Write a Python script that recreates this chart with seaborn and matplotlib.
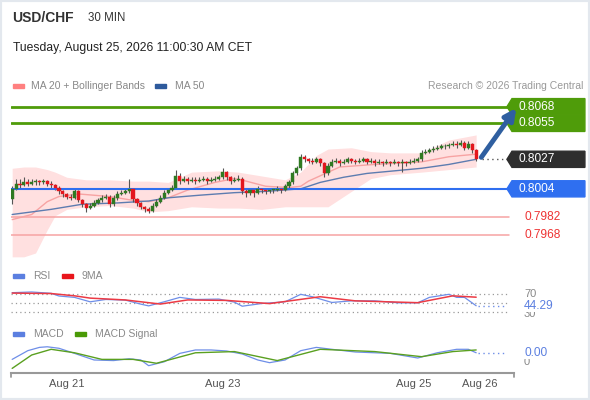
import seaborn as sns
import matplotlib.pyplot as plt
import matplotlib.transforms as mtrans
from matplotlib.patches import Polygon, Rectangle

sns.set_style("white")
plt.rcParams['font.family'] = ['Liberation Sans', 'DejaVu Sans']

W, H = 590, 400

# prices are in pips above 0.8000
BASE = 0.8000
first_open = -4
closes = [4, 8, 7, 9, 8, 9, 10, 9, 10, 8, 7, 5, 2, 0, -2, -3, 2, -5, -8, -11,
          -9, -7, -5, -3, -2, -8, -3, 0, 1, 2, 4, -4, -7, -10, -12, -13, -9, -6, -3, 1,
          3, 5, 14, 10, 12, 10, 11, 10, 11, 12, 10, 11, 12, 13, 17, 13, 10, 11, 12, 2,
          1, 3, 1, 4, 3, 2, 3, 3, 4, 3, 6, 9, 16, 20, 29, 27, 26, 25, 27, 24,
          16, 22, 25, 26, 24, 25, 27, 26, 25, 26, 27, 25, 26, 24, 25, 24, 25, 24, 25, 24,
          25, 24, 25, 26, 27, 32, 33, 34, 35, 36, 37, 37, 38, 39, 38, 40, 36, 39, 34, 27]
highs = [6, 12, 12, 13, 12, 12, 12, 11, 12, 11, 10, 8, 6, 3, 1, 0, 4, 3, -4, -7,
         -7, -5, -3, -1, 0, -1, -1, 2, 3, 4, 12, 5, -3, -6, -9, -10, -7, -4, -1, 3,
         5, 7, 19, 16, 14, 13, 13, 13, 13, 14, 13, 13, 14, 15, 20, 18, 14, 13, 15, 13,
         4, 5, 4, 6, 5, 4, 5, 5, 6, 5, 8, 11, 18, 22, 31, 30, 28, 28, 29, 28,
         25, 24, 27, 28, 27, 27, 29, 28, 27, 28, 29, 28, 28, 27, 27, 26, 27, 26, 27, 26,
         27, 26, 27, 28, 29, 34, 35, 36, 37, 38, 39, 39, 40, 41, 41, 42, 41, 41, 40, 35]
lows = [-8, 3, 5, 6, 6, 7, 7, 7, 8, 6, 5, 3, 0, -2, -4, -5, -4, -6, -10, -14,
        -12, -10, -8, -6, -4, -10, -9, -5, -1, 0, 1, -6, -9, -12, -14, -15, -14, -10, -7, -4,
        0, 2, 4, 8, 9, 8, 9, 8, 9, 10, 8, 9, 10, 11, 12, 11, 8, 9, 10, 0,
        -2, -1, -2, 0, 1, 0, 1, 1, 2, 1, 2, 5, 8, 15, 19, 25, 24, 23, 24, 22,
        13, 15, 21, 24, 22, 23, 24, 24, 23, 24, 25, 23, 24, 22, 23, 22, 23, 22, 23, 22,
        17, 22, 23, 24, 25, 26, 31, 32, 33, 34, 35, 35, 36, 37, 36, 37, 34, 35, 32, 26]

ma20_idx = [0, 5, 9, 12, 17, 25, 31, 35, 40, 45, 52, 57, 60, 65, 71, 74, 76, 84, 93, 105, 112, 119]
ma20 = [-20, -16, -6, -2, 0, -2, -5, -6, -3, 3, 9, 12, 10, 6, 5, 6, 10, 21, 23, 25, 29, 31]
ma50_idx = [0, 10, 18, 27, 35, 40, 48, 57, 65, 74, 79, 85, 91, 98, 105, 112, 119]
ma50 = [-16, -12, -8, -7, -5.5, -3, -1, 1, 2, 4, 9, 13, 16, 18, 20, 23, 27]
band_idx = [0, 3, 6, 9, 11, 14, 19, 25, 31, 35, 40, 46, 53, 58, 64, 70, 74, 78, 81, 87, 92, 97, 105, 112, 119]
band_upper = [20, 21, 21, 19, 17, 13, 11, 11, 10, 10, 9, 17, 18, 17, 14, 11, 17, 30, 35, 36, 33, 32, 32, 42, 46]
band_lower = [-49, -49, -46, -28, -17, -12, -10, -9, -11, -14, -13, -10, -11, -11, -12, -10, -10, -10, -10, 2, 12, 15, 17, 19, 21]

green_levels = [0.8068, 0.8055]
blue_level = 0.8004
red_levels = [0.7982, 0.7968]
last_price = 0.8027

rsi_idx = [0, 5, 10, 12, 16, 20, 24, 29, 33, 35, 39, 43, 47, 53, 57, 59, 64, 70, 74, 77,
           82, 87, 93, 99, 104, 107, 112, 114, 116, 119]
rsi = [72.9, 74.4, 71.5, 65.6, 62.6, 52.9, 58, 56.7, 47.8, 44, 53, 62.6, 58, 58.9, 52.2, 43.3,
       49.2, 53, 69.3, 64, 51.5, 55, 55, 50.7, 50.7, 62.6, 69.3, 62.6, 62.6, 44.29]
rsi_ma_idx = [0, 10, 16, 20, 29, 38, 45, 55, 66, 79, 88, 104, 113, 119]
rsi_ma = [72, 71, 66, 61, 57, 48, 57, 56, 49, 64, 55, 51, 66, 63]

macd_idx = [0, 4, 7, 9, 12, 16, 21, 26, 30, 33, 35, 39, 43, 47, 51, 55, 59, 63, 66, 70,
            74, 78, 82, 88, 97, 104, 109, 114, 117, 119]
macd = [0.1, 1.55, 2.1, 2.2, 1.95, 1.1, 0, -0.1, 0.2, 0, -0.95, -0.3, 1.1, 1.67, 1.67, 1.5,
        1, 0, -0.45, 0, 1.55, 2.1, 1.78, 1.33, 1.1, 0.33, 1.2, 1.78, 1.78, 1.2]
signal_idx = [0, 5, 10, 16, 23, 31, 37, 47, 57, 68, 79, 93, 105, 113, 119]
signal = [-1.4, 0.83, 1.78, 1.2, 0.1, 0.1, -0.55, 1.2, 1.4, -0.1, 1.78, 1.4, 0.55, 1.4, 1.67]

date_ticks = [14, 54, 103, 120]
date_labels = ["Aug 21", "Aug 23", "Aug 25", "Aug 26"]


def pips(p):
    return round((p - BASE) * 1e4, 1)


def ax_rect(top, bottom, left=11, right=514):
    return [left / W, 1 - bottom / H, (right - left) / W, (bottom - top) / H]


def ftext(x, y, s, **kw):
    fig.text(x / W, 1 - y / H, s, va='center', **kw)


def legend_key(x, y, color):
    fig.add_artist(Rectangle((x / W, 1 - (y + 2) / H), 11 / W, 4 / H,
                             color=color, transform=fig.transFigure))


def tag(ax, y, text, color, half):
    tr = mtrans.blended_transform_factory(ax.transAxes, ax.transData)
    pts = [(0.986, y), (0.996, y + half), (1.141, y + half), (1.141, y - half), (0.996, y - half)]
    ax.add_patch(Polygon(pts, closed=True, color=color, transform=tr, clip_on=False, zorder=5))
    ax.text(1.008, y, text, transform=tr, color='white', fontsize=8.6,
            va='center', ha='left', zorder=6)


fig = plt.figure(figsize=(W / 100, H / 100), dpi=100)
XMIN, XMAX = -0.3, 128.7

# ---------------- price pane
ax = fig.add_axes(ax_rect(100, 258))
ax.fill_between(band_idx, band_lower, band_upper, color='#ffe0e0', lw=0, zorder=1)
sns.lineplot(x=ma20_idx, y=ma20, color='#f7a3a3', lw=1.0, ax=ax, zorder=2)
sns.lineplot(x=ma50_idx, y=ma50, color='#5d7cb0', lw=1.0, ax=ax, zorder=2)

opens = [first_open] + closes[:-1]
xs = list(range(len(closes)))
ax.vlines(xs, lows, highs, color='#555555', lw=0.8, zorder=3)
for i, (o, c) in enumerate(zip(opens, closes)):
    col = '#2f7a22' if c >= o else '#e3161d'
    h = c - o if abs(c - o) > 0.3 else 0.5
    ax.bar(i, h, bottom=o, width=0.8, color=col, edgecolor=col, lw=0.3, zorder=4)

half = 6.3
for lv in green_levels:
    ax.axhline(pips(lv), xmin=0, xmax=0.99, color='#4f9c0a', lw=2, zorder=3)
    tag(ax, pips(lv), f"{lv:.4f}", '#4f9c0a', half)
ax.axhline(pips(blue_level), xmin=0, xmax=0.99, color='#2f6ff0', lw=1.5, zorder=3)
tag(ax, pips(blue_level), f"{blue_level:.4f}", '#2f6ff0', half)
tag(ax, pips(last_price), f"{last_price:.4f}", '#2e2e2e', half)
ax.hlines(pips(last_price), len(closes) + 0.5, 126.9, color='#555555', lw=1,
          linestyles=(0, (1, 2.5)), zorder=3)
tr = mtrans.blended_transform_factory(ax.transAxes, ax.transData)
for lv in red_levels:
    ax.axhline(pips(lv), xmin=0, xmax=0.99, color='#f6a3a3', lw=1.1, zorder=3)
    ax.text(1.02, pips(lv), f"{lv:.4f}", transform=tr, color='#ee3333',
            fontsize=8.6, va='center', ha='left')

ax.annotate('', xy=(129.3, 67), xytext=(120.3, pips(last_price) + 1.5),
            arrowprops=dict(arrowstyle='-|>', color='#2f5fa0', lw=3.5,
                            mutation_scale=17, shrinkA=0, shrinkB=0),
            annotation_clip=False, zorder=7)

ax.set_xlim(XMIN, XMAX)
ax.set_ylim(-49.9, 73.2)

# ---------------- RSI pane
ax2 = fig.add_axes(ax_rect(286, 318))
for lvl in [70, 50, 30]:
    ax2.axhline(lvl, xmin=0, xmax=0.99, color='#9a9a9a', lw=0.9, ls=(0, (1, 2.5)))
sns.lineplot(x=rsi_idx, y=rsi, color='#6e8ee8', lw=0.9, ax=ax2)
sns.lineplot(x=rsi_ma_idx, y=rsi_ma, color='#ec3a44', lw=1.1, ax=ax2)
ax2.hlines(rsi[-1], rsi_idx[-1] + 0.5, 126.9, color='#6e8ee8', lw=1, linestyles=(0, (1, 2.5)))
tr2 = mtrans.blended_transform_factory(ax2.transAxes, ax2.transData)
ax2.text(1.02, 70, "70", transform=tr2, color='#888888', fontsize=8, va='center')
ax2.text(1.02, 27, "30", transform=tr2, color='#888888', fontsize=8, va='center')
ax2.text(1.02, rsi[-1], f"{rsi[-1]:.2f}", transform=tr2, color='#5b7fe0', fontsize=8.6,
         va='center', bbox=dict(fc='white', ec='none', pad=0.3))
ax2.set_xlim(XMIN, XMAX)
ax2.set_ylim(17.5, 87.5)

# ---------------- MACD pane
ax3 = fig.add_axes(ax_rect(340, 373))
sns.lineplot(x=macd_idx, y=macd, color='#6e8ee8', lw=0.9, ax=ax3)
sns.lineplot(x=signal_idx, y=signal, color='#5aa020', lw=1.0, ax=ax3)
ax3.hlines(macd[-1], macd_idx[-1] + 0.5, 126.9, color='#6e8ee8', lw=1, linestyles=(0, (1, 2.5)))
tr3 = mtrans.blended_transform_factory(ax3.transAxes, ax3.transData)
ax3.text(1.02, -0.3, "0", transform=tr3, color='#888888', fontsize=8, va='center')
ax3.text(1.02, macd[-1], f"{macd[-1] / 1e4:.2f}", transform=tr3, color='#5b7fe0',
         fontsize=8.6, va='center', bbox=dict(fc='white', ec='none', pad=0.3))
ax3.set_xlim(XMIN, XMAX)
ax3.set_ylim(-2.17, 3.33)
ax3.set_xticks(date_ticks)
ax3.set_xticklabels(date_labels, fontsize=8, color='#555555')
ax3.tick_params(axis='x', length=0, pad=4.5)
ax3.plot([0, 0], [0, -0.13], transform=ax3.transAxes, color='#999999', lw=1.3, clip_on=False)
ax3.plot([1, 1], [0, -0.13], transform=ax3.transAxes, color='#999999', lw=1.3, clip_on=False)

for a in (ax, ax2, ax3):
    a.set_yticks([])
    a.set_ylabel('')
    a.set_xlabel('')
    if a is not ax3:
        a.set_xticks([])
    for s in a.spines.values():
        s.set_visible(False)
    a.set_facecolor('none')
ax3.spines['bottom'].set_visible(True)
ax3.spines['bottom'].set_color('#999999')
ax3.spines['bottom'].set_linewidth(1.5)

# ---------------- header / legends
ftext(12, 18, "USD/CHF", fontsize=10, fontweight='bold', color='#333333')
ftext(88, 18, "30 MIN", fontsize=8.3, color='#333333')
ftext(13, 48, "Tuesday, August 25, 2026 11:00:30 AM CET", fontsize=8.7, color='#222222')
legend_key(13, 86, '#ff8080')
ftext(31, 86, "MA 20 + Bollinger Bands", fontsize=7.5, color='#888888')
legend_key(155, 86, '#2e5a9c')
ftext(175, 86, "MA 50", fontsize=7.5, color='#888888')
ftext(583, 86, "Research \u00a9 2026 Trading Central", fontsize=7.5, color='#999999', ha='right')
legend_key(13, 276, '#5b7fe0')
ftext(33, 276, "RSI", fontsize=7.5, color='#888888')
legend_key(62, 276, '#e8151b')
ftext(82, 276, "9MA", fontsize=7.5, color='#888888')
legend_key(13, 334, '#5b7fe0')
ftext(33, 334, "MACD", fontsize=7.5, color='#888888')
legend_key(75, 334, '#4a9a06')
ftext(95, 334, "MACD Signal", fontsize=7.5, color='#888888')

fig.add_artist(Rectangle((0, 0), 1, 1, transform=fig.transFigure, fill=False,
                         edgecolor='#e3e8ee', lw=3))

fig.savefig('out.png', dpi=100)
